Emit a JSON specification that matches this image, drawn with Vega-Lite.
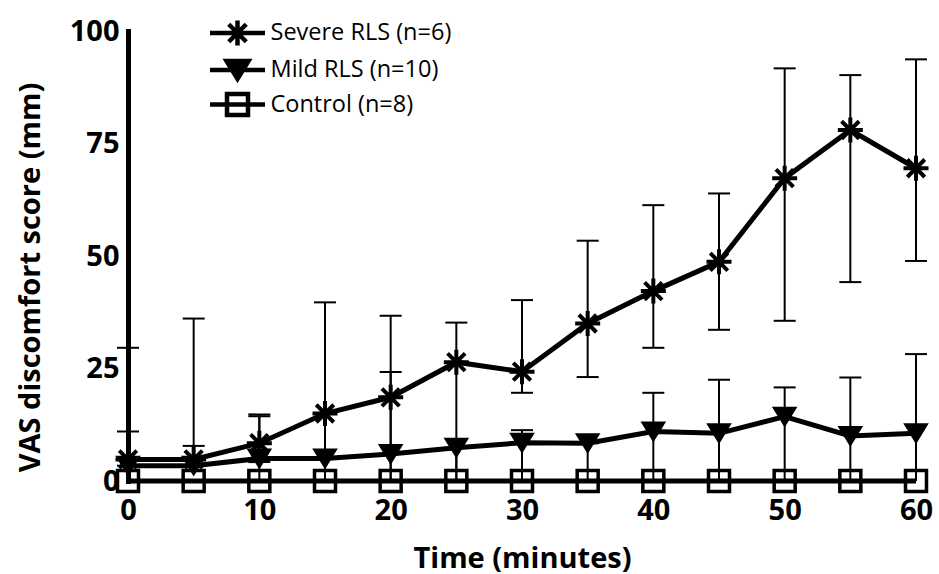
{
  "$schema": "https://vega.github.io/schema/vega-lite/v6.json",
  "width": 788,
  "height": 450,
  "autosize": {"type": "none"},
  "padding": {"left": 128, "top": 31, "right": 23, "bottom": 93},
  "background": "white",
  "config": {
    "view": {"stroke": null},
    "axis": {"grid": false},
    "axisY": {
      "domainWidth": 5, "domainColor": "black", "domainCap": "square", "ticks": false, "tickSize": 0,
      "labelPadding": 9, "labelFont": "Open Sans", "labelFontWeight": "bold", "labelFontSize": 29, "labelColor": "black",
      "titleFont": "Open Sans", "titleFontWeight": "bold", "titleFontSize": 29, "titleColor": "black",
      "titleX": -89, "titleY": 246, "titleBaseline": "alphabetic", "labelOverlap": false
    },
    "axisX": {
      "domain": false, "ticks": false, "tickSize": 0,
      "labelPadding": 38, "labelBaseline": "alphabetic", "labelFont": "Open Sans", "labelFontWeight": "bold", "labelFontSize": 29, "labelColor": "black",
      "titleFont": "Open Sans", "titleFontWeight": "bold", "titleFontSize": 29, "titleColor": "black",
      "titleY": 86, "titleBaseline": "alphabetic", "labelOverlap": false, "labelFlush": false
    }
  },
  "datasets": {
    "pts": [
      {"group": "Severe RLS (n=6)", "time": 0, "value": 4.8},
      {"group": "Severe RLS (n=6)", "time": 5, "value": 4.8},
      {"group": "Severe RLS (n=6)", "time": 10, "value": 8.4},
      {"group": "Severe RLS (n=6)", "time": 15, "value": 15.0},
      {"group": "Severe RLS (n=6)", "time": 20, "value": 18.6},
      {"group": "Severe RLS (n=6)", "time": 25, "value": 26.4},
      {"group": "Severe RLS (n=6)", "time": 30, "value": 24.3},
      {"group": "Severe RLS (n=6)", "time": 35, "value": 35.0},
      {"group": "Severe RLS (n=6)", "time": 40, "value": 42.2},
      {"group": "Severe RLS (n=6)", "time": 45, "value": 48.7},
      {"group": "Severe RLS (n=6)", "time": 50, "value": 67.3},
      {"group": "Severe RLS (n=6)", "time": 55, "value": 78.0},
      {"group": "Severe RLS (n=6)", "time": 60, "value": 69.5},
      {"group": "Mild RLS (n=10)", "time": 0, "value": 3.4},
      {"group": "Mild RLS (n=10)", "time": 5, "value": 3.4},
      {"group": "Mild RLS (n=10)", "time": 10, "value": 5.0},
      {"group": "Mild RLS (n=10)", "time": 15, "value": 5.0},
      {"group": "Mild RLS (n=10)", "time": 20, "value": 6.0},
      {"group": "Mild RLS (n=10)", "time": 25, "value": 7.4},
      {"group": "Mild RLS (n=10)", "time": 30, "value": 8.5},
      {"group": "Mild RLS (n=10)", "time": 35, "value": 8.4},
      {"group": "Mild RLS (n=10)", "time": 40, "value": 11.0},
      {"group": "Mild RLS (n=10)", "time": 45, "value": 10.6},
      {"group": "Mild RLS (n=10)", "time": 50, "value": 14.3},
      {"group": "Mild RLS (n=10)", "time": 55, "value": 10.0},
      {"group": "Mild RLS (n=10)", "time": 60, "value": 10.6},
      {"group": "Control (n=8)", "time": 0, "value": 0},
      {"group": "Control (n=8)", "time": 5, "value": 0},
      {"group": "Control (n=8)", "time": 10, "value": 0},
      {"group": "Control (n=8)", "time": 15, "value": 0},
      {"group": "Control (n=8)", "time": 20, "value": 0},
      {"group": "Control (n=8)", "time": 25, "value": 0},
      {"group": "Control (n=8)", "time": 30, "value": 0},
      {"group": "Control (n=8)", "time": 35, "value": 0},
      {"group": "Control (n=8)", "time": 40, "value": 0},
      {"group": "Control (n=8)", "time": 45, "value": 0},
      {"group": "Control (n=8)", "time": 50, "value": 0},
      {"group": "Control (n=8)", "time": 55, "value": 0},
      {"group": "Control (n=8)", "time": 60, "value": 0}
    ],
    "err": [
      {"group": "Severe RLS (n=6)", "time": 0, "lo": 4.8, "hi": 29.6},
      {"group": "Severe RLS (n=6)", "time": 5, "lo": 4.8, "hi": 36.1},
      {"group": "Severe RLS (n=6)", "time": 10, "lo": 4.2, "hi": 14.8},
      {"group": "Severe RLS (n=6)", "time": 15, "lo": 0, "hi": 39.7},
      {"group": "Severe RLS (n=6)", "time": 20, "lo": 0, "hi": 36.7},
      {"group": "Severe RLS (n=6)", "time": 25, "lo": 0, "hi": 35.2},
      {"group": "Severe RLS (n=6)", "time": 30, "lo": 19.6, "hi": 40.2},
      {"group": "Severe RLS (n=6)", "time": 35, "lo": 23.1, "hi": 53.4},
      {"group": "Severe RLS (n=6)", "time": 40, "lo": 29.6, "hi": 61.3},
      {"group": "Severe RLS (n=6)", "time": 45, "lo": 33.6, "hi": 63.9},
      {"group": "Severe RLS (n=6)", "time": 50, "lo": 35.6, "hi": 91.7},
      {"group": "Severe RLS (n=6)", "time": 55, "lo": 44.2, "hi": 90.2},
      {"group": "Severe RLS (n=6)", "time": 60, "lo": 48.9, "hi": 93.7},
      {"group": "Mild RLS (n=10)", "time": 0, "lo": 3.4, "hi": 11.0},
      {"group": "Mild RLS (n=10)", "time": 5, "lo": 3.4, "hi": 7.8},
      {"group": "Mild RLS (n=10)", "time": 10, "lo": 0, "hi": 14.4},
      {"group": "Mild RLS (n=10)", "time": 15, "lo": 0, "hi": 5.0},
      {"group": "Mild RLS (n=10)", "time": 20, "lo": 0, "hi": 24.2},
      {"group": "Mild RLS (n=10)", "time": 25, "lo": 0, "hi": 7.4},
      {"group": "Mild RLS (n=10)", "time": 30, "lo": 0, "hi": 11.3},
      {"group": "Mild RLS (n=10)", "time": 35, "lo": 0, "hi": 8.4},
      {"group": "Mild RLS (n=10)", "time": 40, "lo": 0, "hi": 19.6},
      {"group": "Mild RLS (n=10)", "time": 45, "lo": 0, "hi": 22.5},
      {"group": "Mild RLS (n=10)", "time": 50, "lo": 0, "hi": 20.8},
      {"group": "Mild RLS (n=10)", "time": 55, "lo": 0, "hi": 23.0},
      {"group": "Mild RLS (n=10)", "time": 60, "lo": 0, "hi": 28.2}
    ]
  },
  "encoding": {
    "x": {
      "field": "time", "type": "quantitative", "title": "Time (minutes)",
      "scale": {"domain": [0, 60], "nice": false, "zero": false},
      "axis": {"values": [0, 10, 20, 30, 40, 50, 60]}
    }
  },
  "layer": [
    {
      "data": {"name": "err"},
      "mark": {"type": "rule", "color": "black", "strokeWidth": 2},
      "encoding": {
        "y": {"field": "lo", "type": "quantitative", "title": "VAS discomfort score (mm)", "scale": {"domain": [0, 100], "nice": false}, "axis": {"values": [0, 25, 50, 75, 100]}},
        "y2": {"field": "hi"}
      }
    },
    {
      "data": {"name": "err"},
      "mark": {"type": "tick", "orient": "horizontal", "size": 22, "thickness": 2, "color": "black", "opacity": 1},
      "encoding": {
        "y": {"field": "hi", "type": "quantitative", "title": "VAS discomfort score (mm)"}
      }
    },
    {
      "data": {"name": "err"},
      "transform": [{"filter": "datum.lo > 0"}],
      "mark": {"type": "tick", "orient": "horizontal", "size": 22, "thickness": 2, "color": "black", "opacity": 1},
      "encoding": {
        "y": {"field": "lo", "type": "quantitative", "title": "VAS discomfort score (mm)"}
      }
    },
    {
      "data": {"name": "pts"},
      "mark": {"type": "line", "color": "black", "strokeWidth": 5},
      "encoding": {
        "y": {"field": "value", "type": "quantitative", "title": "VAS discomfort score (mm)"},
        "detail": {"field": "group"}
      }
    },
    {
      "data": {"name": "pts"},
      "transform": [{"filter": "datum.group === 'Severe RLS (n=6)'"}],
      "mark": {"type": "point", "filled": false, "stroke": "black", "strokeWidth": 4, "opacity": 1, "size": 625,
               "shape": "M0,-1L0,1M-1,0L1,0M-0.7,-0.7L0.7,0.7M-0.7,0.7L0.7,-0.7"},
      "encoding": {
        "y": {"field": "value", "type": "quantitative", "title": "VAS discomfort score (mm)"}
      }
    },
    {
      "data": {"name": "pts"},
      "transform": [{"filter": "datum.group === 'Mild RLS (n=10)'"}],
      "mark": {"type": "point", "filled": true, "fill": "black", "stroke": "black", "strokeWidth": 2, "opacity": 1, "size": 625,
               "shape": "M-0.88,-0.72L0.88,-0.72L0,0.72Z"},
      "encoding": {
        "y": {"field": "value", "type": "quantitative", "title": "VAS discomfort score (mm)"}
      }
    },
    {
      "data": {"name": "pts"},
      "transform": [{"filter": "datum.group === 'Control (n=8)'"}],
      "mark": {"type": "point", "filled": false, "stroke": "black", "strokeWidth": 3.5, "opacity": 1, "size": 625,
               "shape": "M-0.84,-0.84L0.84,-0.84L0.84,0.84L-0.84,0.84Z"},
      "encoding": {
        "y": {"field": "value", "type": "quantitative", "title": "VAS discomfort score (mm)"}
      }
    },
    {
      "data": {"name": "pts"},
      "transform": [{"filter": "datum.time < 0"}],
      "mark": {"type": "point", "filled": false, "stroke": "black", "strokeWidth": 4.5, "opacity": 1, "size": 625},
      "encoding": {
        "y": {"field": "value", "type": "quantitative", "title": "VAS discomfort score (mm)"},
        "shape": {
          "field": "group", "type": "nominal",
          "scale": {
            "domain": ["Severe RLS (n=6)", "Mild RLS (n=10)", "Control (n=8)"],
            "range": [
              "M-2.2,0L2.2,0M0,-1L0,1M-1,0L1,0M-0.7,-0.7L0.7,0.7M-0.7,0.7L0.7,-0.7",
              "M-2.2,0L2.2,0M-0.88,-0.72L0.88,-0.72L0,0.72ZM-0.6,-0.45L0.6,-0.45M-0.45,-0.15L0.45,-0.15M-0.25,0.18L0.25,0.18M-0.1,0.4L0.1,0.4",
              "M-2.2,0L2.2,0M-0.84,-0.84L0.84,-0.84L0.84,0.84L-0.84,0.84Z"
            ]
          },
          "legend": {
            "orient": "none", "legendX": 94.5, "legendY": -13, "title": null,
            "symbolSize": 625, "symbolStrokeWidth": 4.5, "symbolStrokeColor": "black", "symbolFillColor": "transparent", "symbolOpacity": 1,
            "labelFont": "Open Sans", "labelFontSize": 23.5, "labelColor": "black", "labelLimit": 400,
            "labelOffset": 18, "rowPadding": -3.5, "padding": 0
          }
        }
      }
    }
  ]
}
